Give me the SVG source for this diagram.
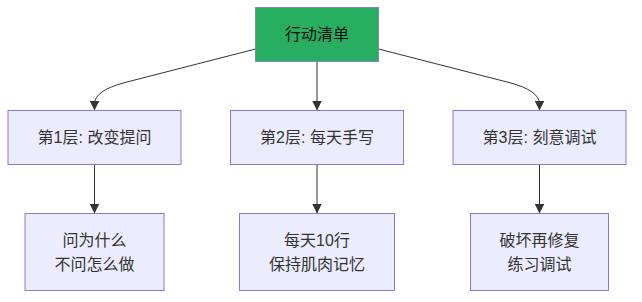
<svg xmlns="http://www.w3.org/2000/svg" width="642" height="302" viewBox="0 0 642 302">
<style>
.node rect{fill:#ECECFF;stroke:#9370DB;stroke-width:1}
.node text{font-family:"Liberation Sans","Noto Sans CJK SC",sans-serif;font-size:16px;fill:#333;text-anchor:middle;dominant-baseline:central}
#top rect{fill:#27AE60;stroke:#7E88C0}
#top text{fill:#111}
.edge{fill:none;stroke:#333;stroke-width:1;marker-end:url(#arr)}
</style>
<defs>
<marker id="arr" viewBox="0 0 10 10" refX="10" refY="5" markerWidth="10" markerHeight="10" markerUnits="userSpaceOnUse" orient="auto">
<path d="M0,0 L10,5 L0,10 z" fill="#333"/>
</marker>
</defs>
<rect width="642" height="302" fill="#fff"/>
<g id="connectors">
<path class="edge" d="M255.5,49 L125,82.5 Q94.5,90.5 94.5,104 L94.5,110.5"/>
<path class="edge" d="M317,61.5 L317,110.5"/>
<path class="edge" d="M378.5,49 L509,82.5 Q539.5,90.5 539.5,104 L539.5,110.5"/>
<path class="edge" d="M94.5,164.5 L94.5,213.5"/>
<path class="edge" d="M317,164.5 L317,213.5"/>
<path class="edge" d="M539.5,164.5 L539.5,213.5"/>
</g>
<g id="top" class="node"><rect x="255.5" y="7.5" width="123" height="54"/><text x="317" y="34.5">行动清单</text></g>
<g id="l1" class="node"><rect x="8" y="110.5" width="173" height="54"/><text x="94.5" y="137.5">第1层: 改变提问</text></g>
<g id="l2" class="node"><rect x="230.5" y="110.5" width="173" height="54"/><text x="317" y="137.5">第2层: 每天手写</text></g>
<g id="l3" class="node"><rect x="453" y="110.5" width="173" height="54"/><text x="539.5" y="137.5">第3层: 刻意调试</text></g>
<g id="d1" class="node"><rect x="25" y="213.5" width="139" height="77"/><text x="94.5" y="240">问为什么</text><text x="94.5" y="264">不问怎么做</text></g>
<g id="d2" class="node"><rect x="239.5" y="213.5" width="155" height="77"/><text x="317" y="240">每天10行</text><text x="317" y="264">保持肌肉记忆</text></g>
<g id="d3" class="node"><rect x="470.5" y="213.5" width="138" height="77"/><text x="539.5" y="240">破坏再修复</text><text x="539.5" y="264">练习调试</text></g>
</svg>
